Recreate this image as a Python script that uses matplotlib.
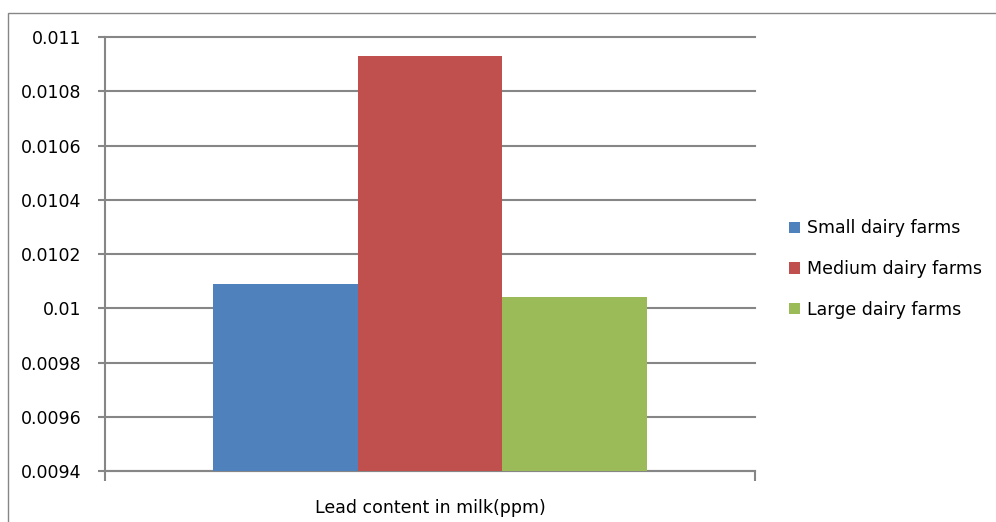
import matplotlib.pyplot as plt
from matplotlib.patches import Patch, Rectangle

category = 'Lead content in milk(ppm)'
series = ['Small dairy farms', 'Medium dairy farms', 'Large dairy farms']
values = [0.01009, 0.01093, 0.01004]
colors = ['#4f81bd', '#c0504d', '#9bbb59']
yticks = [0.0094, 0.0096, 0.0098, 0.01, 0.0102, 0.0104, 0.0106, 0.0108, 0.011]
ytick_labels = ['0.0094', '0.0096', '0.0098', '0.01', '0.0102', '0.0104', '0.0106', '0.0108', '0.011']

grey = '#868686'
plt.rcParams['font.family'] = ['DejaVu Sans']

fig = plt.figure(figsize=(9.96, 5.22), dpi=100)
ax = fig.add_axes([0.1054, 0.0977, 0.6526, 0.8314])

# chart area border (only top/left visible in the original crop)
fig.patches.append(Rectangle((7.5 / 996, -0.1), 1.2, 1.0 - 12.5 / 522 + 0.1,
                             transform=fig.transFigure, fill=False,
                             edgecolor=grey, linewidth=1.0))

width = 1 / 4.5
for i, (name, v, c) in enumerate(zip(series, values, colors)):
    ax.bar((i - 1) * width, v - 0.0094, bottom=0.0094, width=width,
           color=c, label=name, zorder=3)

ax.set_xlim(-0.5, 0.5)
ax.set_ylim(0.0094, 0.011)
ax.set_yticks(yticks)
ax.set_yticklabels(ytick_labels)
ax.yaxis.grid(True, color=grey, linewidth=1.5)
for gl in ax.get_ygridlines():
    gl.set_clip_on(False)
ax.set_axisbelow(True)

ax.set_xticks([0])
ax.set_xticklabels([category])
ax.set_xticks([-0.5, 0.5], minor=True)
ax.tick_params(axis='x', which='major', length=0, pad=20, labelsize=12.5)
ax.tick_params(axis='x', which='minor', length=7, width=1.5, color=grey, direction='out')
ax.tick_params(axis='y', length=5, width=1.5, color=grey, labelsize=12.5, pad=12)

for s in ['top', 'right']:
    ax.spines[s].set_visible(False)
for s in ['left', 'bottom']:
    ax.spines[s].set_color(grey)
    ax.spines[s].set_linewidth(1.5)

handles = [Patch(facecolor=c, label=n) for n, c in zip(series, colors)]
fig.legend(handles=handles, loc='center left', bbox_to_anchor=(0.776, 1 - 269 / 522),
           frameon=False, fontsize=12.5, handlelength=0.65, handleheight=0.65,
           handletextpad=0.4, labelspacing=1.3)

fig.savefig('out.png', dpi=100)
